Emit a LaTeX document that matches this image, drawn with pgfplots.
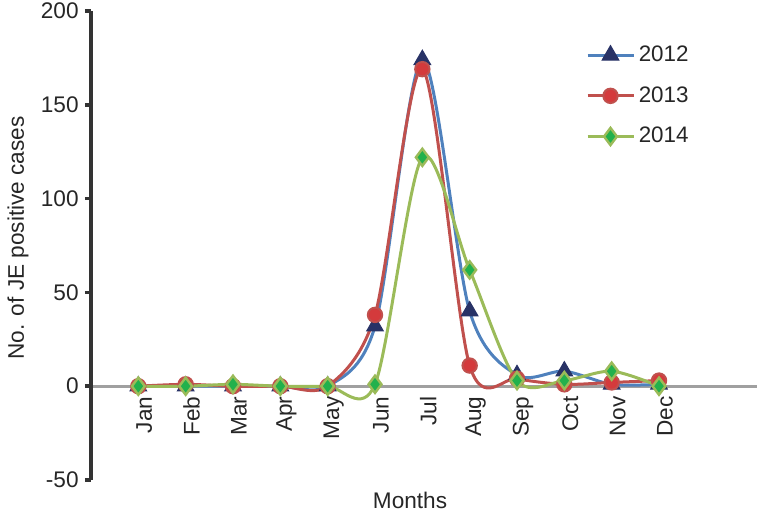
\documentclass[border=0pt]{standalone}
\usepackage{pgfplots}
\pgfplotsset{compat=1.18}
\usepackage{fontspec}
\setmainfont{Liberation Sans}
\definecolor{blueL}{HTML}{4F81BD}
\definecolor{navyM}{HTML}{283266}
\definecolor{redL}{HTML}{C0504D}
\definecolor{redM}{HTML}{D43A3C}
\definecolor{greenL}{HTML}{9BBB59}
\definecolor{greenM}{HTML}{22B14C}
\definecolor{axgray}{HTML}{333333}
\definecolor{zerogray}{HTML}{A0A0A0}
\definecolor{txt}{HTML}{262626}
\begin{document}
\begin{tikzpicture}
\useasboundingbox (-45.5pt,-17.5pt) rectangle (333pt,240pt);
\begin{axis}[
  scale only axis,
  width=333pt, height=234.5pt,
  xmin=-1, xmax=13.07,
  ymin=-50, ymax=200,
  axis y line=left,
  axis x line=middle,
  x axis line style={-, draw=zerogray, line width=1.5pt},
  y axis line style={-, draw=axgray, line width=1.8pt},
  ytick={-50,0,50,100,150,200},
  tick align=outside,
  ytick style={draw=axgray, line width=1.8pt},
  major tick length=3pt,
  xtick={0,...,11},
  xticklabels={Jan,Feb,Mar,Apr,May,Jun,Jul,Aug,Sep,Oct,Nov,Dec},
  xtick style={draw=none},
  xticklabel style={rotate=90, anchor=east, inner sep=2pt, yshift=-3pt},
  yticklabel style={inner sep=2pt, xshift=-1pt},
  every tick label/.append style={font=\fontsize{11.3}{13}\selectfont, text=txt},
  /pgf/number format/assume math mode=true,
  ylabel={No. of JE positive cases},
  xlabel={Months},
  every axis y label/.style={at={(axis description cs:-0.1096,0.516)}, rotate=90, anchor=center, font=\fontsize{11.3}{13}\selectfont, text=txt},
  every axis x label/.style={at={(axis description cs:0.479,0)}, anchor=center, yshift=-10pt, font=\fontsize{11.3}{13}\selectfont, text=txt},
  legend style={at={(axis description cs:0.743,0.935)}, anchor=north west, draw=none, fill=none,
    font=\fontsize{11.2}{13}\selectfont, text=txt, row sep=7pt, inner sep=0pt},
  legend cell align=left,
  legend image code/.code={\draw[mark repeat=2,mark phase=2] plot coordinates {(0cm,0cm)(0.4cm,0cm)(0.8cm,0cm)};},
  clip=false,
]
\addplot[color=blueL, line width=1.5pt, smooth, tension=0.5, mark=triangle*, mark size=4.8pt,
  mark options={draw=navyM, fill=navyM, line width=0.5pt}]
  coordinates {(0,0)(1,0)(2,0)(3,0)(4,0)(5,32)(6,174)(7,40)(8,6)(9,8)(10,1)(11,1)};
\addlegendentry{2012}
\addplot[color=redL, line width=1.5pt, smooth, tension=0.5, mark=*, mark size=3.6pt,
  mark options={draw=redL, fill=redM, line width=1pt}]
  coordinates {(0,0)(1,1)(2,0)(3,0)(4,0)(5,38)(6,169)(7,11)(8,4)(9,1)(10,2)(11,3)};
\addlegendentry{2013}
\addplot[color=greenL, line width=1.5pt, smooth, tension=0.5, mark=diamond*, mark size=4.3pt,
  mark options={draw=greenL, fill=greenM, line width=1.2pt}]
  coordinates {(0,0)(1,0)(2,1)(3,0)(4,0)(5,1)(6,122)(7,62)(8,3)(9,3)(10,8)(11,0)};
\addlegendentry{2014}
\end{axis}
\end{tikzpicture}
\end{document}
